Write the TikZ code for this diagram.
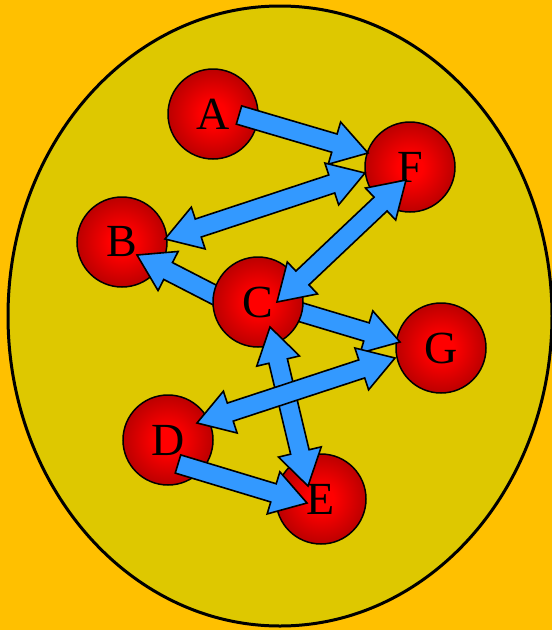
\documentclass[tikz,border=0pt]{standalone}
\usepackage{fontspec}
\setmainfont{Liberation Serif}
\usetikzlibrary{calc}

\definecolor{bgorange}{RGB}{255,192,0}
\definecolor{ovalfill}{RGB}{222,200,0}
\definecolor{arrowblue}{RGB}{51,153,255}
\definecolor{balldark}{RGB}{150,0,0}
\pgfdeclareradialshading{ball}{\pgfpointorigin}{color(0bp)=(red); color(7bp)=(red); color(35bp)=(balldark); color(50bp)=(balldark)}
\pgfdeclarelayer{back}
\pgfdeclarelayer{top}
\pgfsetlayers{back,main,top}

\newcommand{\fatarrow}[2]{%
  \coordinate (tl) at #1;
  \coordinate (tp) at #2;
  \coordinate (hb) at ($(tp)!35pt!(tl)$);
  \draw[fat] ($(tl)!9.5pt!90:(tp)$) -- ($(hb)!9.5pt!90:(tp)$) -- ($(hb)!22pt!90:(tp)$) -- (tp)
    -- ($(hb)!22pt!-90:(tp)$) -- ($(hb)!9.5pt!-90:(tp)$) -- ($(tl)!9.5pt!-90:(tp)$) -- cycle;
}
\newcommand{\fatarrowboth}[2]{%
  \coordinate (tl) at #1;
  \coordinate (tp) at #2;
  \coordinate (hb) at ($(tp)!35pt!(tl)$);
  \coordinate (hc) at ($(tl)!35pt!(tp)$);
  \draw[fat] (tl) -- ($(hc)!22pt!90:(tp)$) -- ($(hc)!9.5pt!90:(tp)$) -- ($(hb)!9.5pt!90:(tp)$)
    -- ($(hb)!22pt!90:(tp)$) -- (tp) -- ($(hb)!22pt!-90:(tp)$) -- ($(hb)!9.5pt!-90:(tp)$)
    -- ($(hc)!9.5pt!-90:(tp)$) -- ($(hc)!22pt!-90:(tp)$) -- cycle;
}

\begin{document}
\begin{tikzpicture}[
  x=1pt, y=-1pt,
  ball/.style={circle,draw=black,line width=1.5pt,minimum size=90pt,inner sep=0pt,outer sep=0pt,
    shading=ball,font=\fontsize{46}{46}\selectfont},
  fat/.style={fill=arrowblue,draw=black,line width=1.6pt,line join=miter},
  oval/.style={fill=ovalfill,draw=black,line width=3pt}
]
\useasboundingbox (0,0) rectangle (552,630);

\begin{pgfonlayer}{back}
\fill[bgorange] (0,0) rectangle (552,630);
\draw[oval] (280,316) ellipse [x radius=272pt, y radius=310pt];
\end{pgfonlayer}

\node[ball] (A) at (213,114) {A};
\node[ball] (F) at (410,167) {F};
\node[ball] (B) at (122,242) {B};
\node[ball] (G) at (441,348) {G};
\node[ball] (D) at (168,440) {D};
\node[ball] (E) at (321,499) {E};
\begin{pgfonlayer}{top}
\node[ball] (C) at (258,302) {C};
\end{pgfonlayer}

\fatarrow{($(C)+(-18,6)$)}{($(B)+(15,13)$)}
\fatarrow{($(C)+(12,1)$)}{($(G)+(-41,-6)$)}
\fatarrow{($(A)+(26,1)$)}{($(F)+(-42,-14)$)}
\fatarrowboth{($(F)+(-45,6)$)}{($(B)+(43,-3)$)}

\begin{pgfonlayer}{top}
\fatarrowboth{($(F)+(-4,13)$)}{($(C)+(19,0)$)}
\fatarrowboth{($(C)+(12,25)$)}{($(E)+(-13,-13)$)}
\fatarrowboth{($(G)+(-46,10)$)}{($(D)+(29,-17)$)}
\fatarrow{($(D)+(10,24)$)}{($(E)+(-14,4)$)}
\end{pgfonlayer}
\end{tikzpicture}
\end{document}
